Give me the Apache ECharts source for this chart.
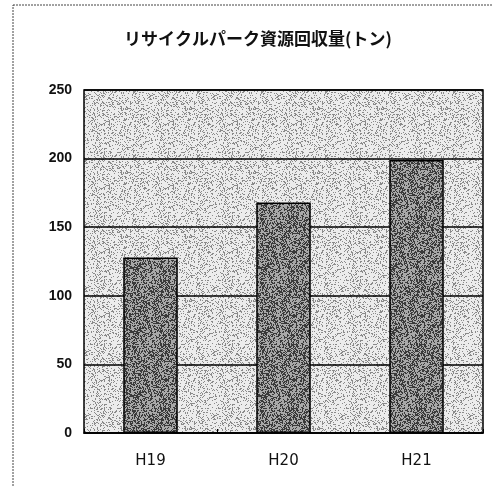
<!DOCTYPE html>
<html>
<head>
<meta charset="utf-8">
<script src="https://cdn.jsdelivr.net/npm/echarts@6/dist/echarts.min.js"></script>
<style>
html,body{margin:0;padding:0;background:#fff;}
#main{width:492px;height:486px;}
</style>
</head>
<body>
<div id="main"></div>
<script>
// データ
var years = ['H19', 'H20', 'H21'];
var amounts = [128, 168, 199];
var yTicks = [0, 50, 100, 150, 200, 250];

// 網点っぽい模様を作る（見た目だけ）
function makeDots(base, dark, rate) {
	var c = document.createElement('canvas');
	c.width = 64; c.height = 64;
	var ctx = c.getContext('2d');
	ctx.fillStyle = base;
	ctx.fillRect(0, 0, 64, 64);
	ctx.fillStyle = dark;
	var s = 12345;
	for (var y = 0; y < 64; y++) {
		for (var x = 0; x < 64; x++) {
			s = (s * 1103515245 + 12345) & 0x7fffffff;
			if ((s % 1000) / 1000 < rate) ctx.fillRect(x, y, 1, 1);
		}
	}
	return c;
}

var myChart = echarts.init(document.getElementById('main'));
var option = {
	animation: false,
	title: {
		text: 'リサイクルパーク資源回収量(トン)',
		left: 253,
		textAlign: 'center',
		top: 25,
		textStyle: {
			fontFamily: 'Noto Sans CJK JP',
			fontSize: 17,
			fontWeight: 'bold',
			color: '#111'
		}
	},
	graphic: [{
		type: 'rect',
		shape: {x: 13, y: 5, width: 490, height: 490},
		style: {fill: null, stroke: '#444', lineWidth: 1, lineDash: [2, 1]},
		silent: true,
		z: -1
	}],
	grid: {
		left: 84,
		right: 9,
		top: 90,
		bottom: 53,
		show: true,
		backgroundColor: {image: makeDots('#ececec', '#8a8a8a', 0.22), repeat: 'repeat'},
		borderColor: '#000',
		borderWidth: 1.5
	},
	xAxis: {
		type: 'category',
		data: years,
		axisLine: {lineStyle: {color: '#000', width: 1.5}},
		axisTick: {show: true, inside: true, length: 4, lineStyle: {color: '#000'}},
		axisLabel: {
			margin: 21,
			fontFamily: 'DejaVu Sans',
			fontSize: 15,
			color: '#111'
		}
	},
	yAxis: {
		type: 'value',
		min: 0,
		max: 250,
		interval: 50,
		axisLine: {show: false},
		axisTick: {show: false},
		axisLabel: {
			margin: 12,
			fontFamily: 'Liberation Sans',
			fontSize: 14,
			fontWeight: 'bold',
			color: '#111',
			formatter: function (v) {
				return yTicks.indexOf(v) >= 0 ? String(v) : '';
			}
		},
		splitLine: {lineStyle: {color: '#000', width: 1.5}}
	},
	series: [{
		type: 'bar',
		data: amounts,
		barWidth: '41%',
		itemStyle: {
			color: {image: makeDots('#a8a8a8', '#3a3a3a', 0.45), repeat: 'repeat'},
			borderColor: '#000',
			borderWidth: 1.5
		}
	}]
};
myChart.setOption(option);
</script>
</body>
</html>
